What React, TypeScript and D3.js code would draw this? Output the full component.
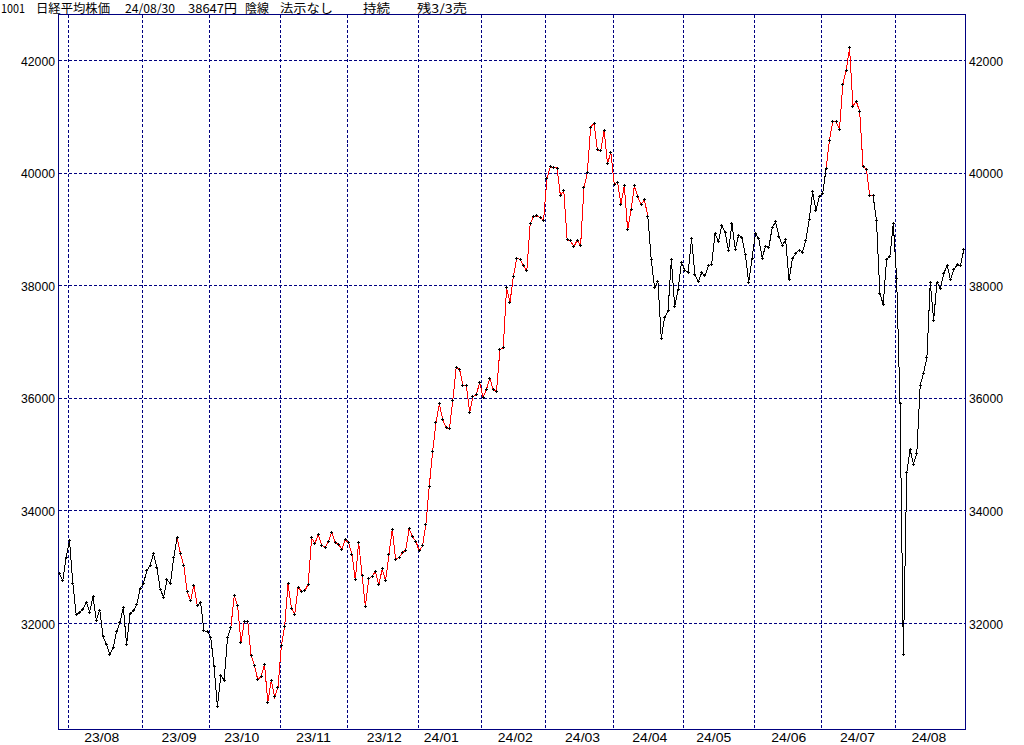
import React from "react";
import * as d3 from "d3";

// ---- data: Nikkei 225 daily closes ----
const dates: string[] = [
  "2023-07-27","2023-07-28","2023-07-31",
  "2023-08-01","2023-08-02","2023-08-03","2023-08-04","2023-08-07","2023-08-08","2023-08-09","2023-08-10","2023-08-14","2023-08-15","2023-08-16","2023-08-17","2023-08-18","2023-08-21","2023-08-22","2023-08-23","2023-08-24","2023-08-25","2023-08-28","2023-08-29","2023-08-30","2023-08-31",
  "2023-09-01","2023-09-04","2023-09-05","2023-09-06","2023-09-07","2023-09-08","2023-09-11","2023-09-12","2023-09-13","2023-09-14","2023-09-15","2023-09-19","2023-09-20","2023-09-21","2023-09-22","2023-09-25","2023-09-26","2023-09-27","2023-09-28","2023-09-29",
  "2023-10-02","2023-10-03","2023-10-04","2023-10-05","2023-10-06","2023-10-10","2023-10-11","2023-10-12","2023-10-13","2023-10-16","2023-10-17","2023-10-18","2023-10-19","2023-10-20","2023-10-23","2023-10-24","2023-10-25","2023-10-26","2023-10-27","2023-10-30","2023-10-31",
  "2023-11-01","2023-11-02","2023-11-06","2023-11-07","2023-11-08","2023-11-09","2023-11-10","2023-11-13","2023-11-14","2023-11-15","2023-11-16","2023-11-17","2023-11-20","2023-11-21","2023-11-22","2023-11-24","2023-11-27","2023-11-28","2023-11-29","2023-11-30",
  "2023-12-01","2023-12-04","2023-12-05","2023-12-06","2023-12-07","2023-12-08","2023-12-11","2023-12-12","2023-12-13","2023-12-14","2023-12-15","2023-12-18","2023-12-19","2023-12-20","2023-12-21","2023-12-22","2023-12-25","2023-12-26","2023-12-27","2023-12-28","2023-12-29",
  "2024-01-04","2024-01-05","2024-01-09","2024-01-10","2024-01-11","2024-01-12","2024-01-15","2024-01-16","2024-01-17","2024-01-18","2024-01-19","2024-01-22","2024-01-23","2024-01-24","2024-01-25","2024-01-26","2024-01-29","2024-01-30","2024-01-31",
  "2024-02-01","2024-02-02","2024-02-05","2024-02-06","2024-02-07","2024-02-08","2024-02-09","2024-02-13","2024-02-14","2024-02-15","2024-02-16","2024-02-19","2024-02-20","2024-02-21","2024-02-22","2024-02-26","2024-02-27","2024-02-28","2024-02-29",
  "2024-03-01","2024-03-04","2024-03-05","2024-03-06","2024-03-07","2024-03-08","2024-03-11","2024-03-12","2024-03-13","2024-03-14","2024-03-15","2024-03-18","2024-03-19","2024-03-21","2024-03-22","2024-03-25","2024-03-26","2024-03-27","2024-03-28","2024-03-29",
  "2024-04-01","2024-04-02","2024-04-03","2024-04-04","2024-04-05","2024-04-08","2024-04-09","2024-04-10","2024-04-11","2024-04-12","2024-04-15","2024-04-16","2024-04-17","2024-04-18","2024-04-19","2024-04-22","2024-04-23","2024-04-24","2024-04-25","2024-04-26","2024-04-30",
  "2024-05-01","2024-05-02","2024-05-07","2024-05-08","2024-05-09","2024-05-10","2024-05-13","2024-05-14","2024-05-15","2024-05-16","2024-05-17","2024-05-20","2024-05-21","2024-05-22","2024-05-23","2024-05-24","2024-05-27","2024-05-28","2024-05-29","2024-05-30","2024-05-31",
  "2024-06-03","2024-06-04","2024-06-05","2024-06-06","2024-06-07","2024-06-10","2024-06-11","2024-06-12","2024-06-13","2024-06-14","2024-06-17","2024-06-18","2024-06-19","2024-06-20","2024-06-21","2024-06-24","2024-06-25","2024-06-26","2024-06-27","2024-06-28",
  "2024-07-01","2024-07-02","2024-07-03","2024-07-04","2024-07-05","2024-07-08","2024-07-09","2024-07-10","2024-07-11","2024-07-12","2024-07-16","2024-07-17","2024-07-18","2024-07-19","2024-07-22","2024-07-23","2024-07-24","2024-07-25","2024-07-26","2024-07-29","2024-07-30","2024-07-31",
  "2024-08-01","2024-08-02","2024-08-05","2024-08-06","2024-08-07","2024-08-08","2024-08-09","2024-08-13","2024-08-14","2024-08-15","2024-08-16","2024-08-19","2024-08-20","2024-08-21","2024-08-22","2024-08-23","2024-08-26","2024-08-27","2024-08-28","2024-08-29","2024-08-30",
];

const closes: number[] = [
  32891, 32759, 33172,
  33476, 32707, 32159, 32192, 32254, 32377, 32204, 32473, 32059, 32238, 31766, 31626, 31450, 31565, 31856, 32010, 32287, 31624, 32169, 32226, 32333, 32619,
  32710, 32939, 33036, 33241, 32991, 32606, 32467, 32776, 32706, 33168, 33533, 33242, 33023, 32571, 32402, 32678, 32315, 32371, 31872, 31857,
  31759, 31237, 30526, 31075, 30994, 31746, 31936, 32494, 32315, 31659, 32040, 32042, 31430, 31259, 30999, 31062, 31269, 30601, 30991, 30697, 30858,
  31601, 31950, 32708, 32271, 32166, 32646, 32568, 32585, 32695, 33519, 33424, 33585, 33388, 33354, 33451, 33625, 33447, 33408, 33321, 33486,
  33431, 33231, 32775, 33445, 32858, 32307, 32791, 32843, 32926, 32686, 32970, 32758, 33219, 33675, 33140, 33169, 33254, 33305, 33681, 33540, 33464,
  33288, 33377, 33763, 34441, 35049, 35577, 35901, 35619, 35477, 35466, 35963, 36546, 36517, 36226, 36236, 35751, 36026, 36065, 36286,
  36011, 36158, 36354, 36160, 36119, 36863, 36897, 37963, 37703, 38157, 38487, 38470, 38363, 38262, 39098, 39233, 39239, 39208, 39166,
  39910, 40109, 40097, 40090, 39598, 39688, 38820, 38797, 38695, 38807, 38707, 39740, 40003, 40815, 40888, 40414, 40398, 40762, 40168, 40369,
  39803, 39838, 39451, 39773, 38992, 39347, 39773, 39581, 39442, 39523, 39232, 38471, 37961, 38079, 37068, 37438, 37552, 38460, 37628, 37934, 38405,
  38274, 38236, 38835, 38202, 38073, 38229, 38179, 38356, 38385, 38920, 38787, 39069, 38946, 38617, 39103, 38646, 38900, 38855, 38556, 38054, 38487,
  38923, 38837, 38490, 38703, 38683, 39038, 39134, 38876, 38720, 38814, 38102, 38482, 38570, 38633, 38596, 38804, 39173, 39667, 39341, 39583,
  39631, 40074, 40580, 40913, 40912, 40780, 41580, 41831, 42224, 41190, 41275, 41097, 40126, 40063, 39599, 39594, 39154, 37869, 37667, 38468, 38525, 39101,
  38126, 35909, 31458, 34675, 35089, 34831, 35025, 36232, 36442, 36726, 38062, 37388, 38063, 37951, 38211, 38364, 38110, 38288, 38371, 38362, 38647,
];

// periods in which the line is drawn red (signal state)
const redRunStarts: string[] = ["2023-09-15", "2023-10-11", "2024-07-02"];
const redRunEnds: string[] = ["2023-09-26", "2024-04-15", "2024-07-23"];

const yTicks: number[] = [32000, 34000, 36000, 38000, 40000, 42000];
const monthLabels: string[] = ["23/08","23/09","23/10","23/11","23/12","24/01","24/02","24/03","24/04","24/05","24/06","24/07","24/08"];
const monthKeys: string[] = ["2023-08","2023-09","2023-10","2023-11","2023-12","2024-01","2024-02","2024-03","2024-04","2024-05","2024-06","2024-07","2024-08"];

const titleTexts: string[] = ["1001", "日経平均株価", "24/08/30", "38647円", "陰線", "法示なし", "持続", "残3/3売"];

// ---- layout ----
const W = 1024, H = 745;
const FRAME = { left: 58.5, right: 965.5, top: 14.5, bottom: 729.5 };
const NAVY = "#000080";
const titleX = [1, 36, 125, 188, 245, 280, 363, 417];
const titleW = [24, 74, 50, 49, 24, 53, 27, 50];

export default function App() {
  const n = closes.length;
  const x = d3.scaleLinear().domain([0, n - 1]).range([59.4, 963.9]);
  const y = d3.scaleLinear().domain([32000, 42000]).range([623.5, 60.5]);

  const isRedSeg = (i: number) =>
    redRunStarts.some((s, k) => dates[i] >= s && dates[i + 1] <= redRunEnds[k]);

  // group consecutive segments by color
  const runs: { color: string; idx: number[] }[] = [];
  for (let i = 0; i < n - 1; i++) {
    const color = isRedSeg(i) ? "#ff0000" : "#000000";
    const last = runs[runs.length - 1];
    if (last && last.color === color) last.idx.push(i + 1);
    else runs.push({ color, idx: [i, i + 1] });
  }
  const line = d3.line<number>().x((i) => x(i)).y((i) => y(closes[i]));

  // month boundaries
  const boundaries: number[] = [];
  for (let i = 1; i < n; i++) {
    if (dates[i].slice(0, 7) !== dates[i - 1].slice(0, 7)) boundaries.push(i);
  }

  // label position: fractional index of the 15th of each month
  const dayNum = (s: string) => new Date(s + "T00:00:00Z").getTime() / 86400000;
  const labelIdx = monthKeys.map((mk) => {
    const target = dayNum(mk + "-15");
    const j = dates.findIndex((d) => dayNum(d) >= target);
    if (j <= 0) return j;
    const a = dayNum(dates[j - 1]), b = dayNum(dates[j]);
    if (b === target) return j;
    return j - 1 + (target - a) / (b - a);
  });

  const font = "'Liberation Sans', Arial, sans-serif";

  return (
    <svg
      width={W}
      height={H}
      style={{ position: "absolute", left: 0, top: 0, display: "block", background: "#fff" }}
    >
      <rect x={0} y={0} width={W} height={H} fill="#fff" />

      {/* title */}
      <g fontFamily="'Noto Sans CJK JP', sans-serif" fontSize={12} fill="#000">
        {titleTexts.map((t, k) => (
          <text key={k} x={titleX[k]} y={12.5} textLength={titleW[k]} lengthAdjust="spacingAndGlyphs">{t}</text>
        ))}
      </g>

      {/* grid */}
      <g stroke={NAVY} strokeWidth={1} strokeDasharray="3,2" shapeRendering="crispEdges">
        {yTicks.map((v) => (
          <line key={v} x1={FRAME.left} x2={FRAME.right} y1={Math.round(y(v) - 0.5) + 0.5} y2={Math.round(y(v) - 0.5) + 0.5} />
        ))}
        {boundaries.map((i) => {
          const gx = Math.floor(x(i) - 1.1) + 0.5;
          return <line key={i} x1={gx} x2={gx} y1={FRAME.top} y2={FRAME.bottom} />;
        })}
      </g>

      {/* frame */}
      <rect
        x={FRAME.left}
        y={FRAME.top}
        width={FRAME.right - FRAME.left}
        height={FRAME.bottom - FRAME.top}
        fill="none"
        stroke={NAVY}
        strokeWidth={1}
        shapeRendering="crispEdges"
      />

      {/* y labels */}
      <g fontFamily={font} fontSize={13} fill="#000">
        {yTicks.map((v) => (
          <React.Fragment key={v}>
            <text x={55} y={y(v) + 5} textAnchor="end" textLength={34} lengthAdjust="spacingAndGlyphs">{v}</text>
            <text x={969} y={y(v) + 5} textAnchor="start" textLength={34} lengthAdjust="spacingAndGlyphs">{v}</text>
          </React.Fragment>
        ))}
      </g>

      {/* x labels */}
      <g fontFamily={font} fontSize={13} fill="#000">
        {monthLabels.map((lab, k) => (
          <text key={lab} x={x(labelIdx[k]) + 2 - 17.5} y={742} textLength={35} lengthAdjust="spacingAndGlyphs">{lab}</text>
        ))}
      </g>

      {/* price line */}
      <g fill="none" strokeWidth={1} shapeRendering="crispEdges">
        {runs.map((r, k) => (
          <path key={k} d={line(r.idx) || ""} stroke={r.color} />
        ))}
      </g>

      {/* plus markers */}
      <g fill="#000" shapeRendering="crispEdges">
        {closes.map((c, i) => {
          const px = Math.round(x(i) - 0.5);
          const py = Math.round(y(c) - 0.5);
          return (
            <g key={i}>
              <rect x={px - 1} y={py} width={3} height={1} />
              <rect x={px} y={py - 1} width={1} height={3} />
            </g>
          );
        })}
      </g>
    </svg>
  );
}
